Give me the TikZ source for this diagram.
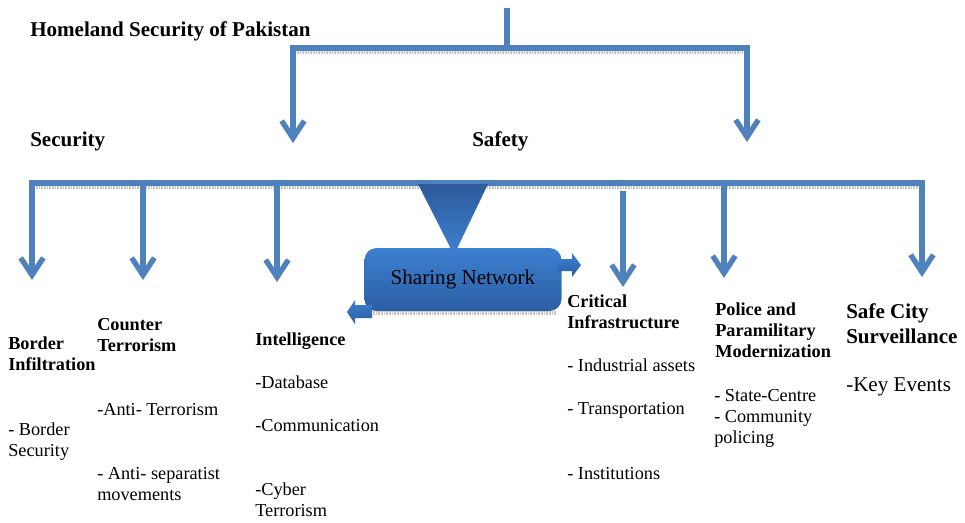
\documentclass[tikz,border=0pt]{standalone}
\usepackage{fontspec}
\setmainfont{Liberation Serif}
\usetikzlibrary{arrows.meta}

\definecolor{linkblue}{RGB}{79,129,189}
\definecolor{netTop}{RGB}{60,128,208}
\definecolor{netBot}{RGB}{44,94,164}
\definecolor{funTop}{RGB}{44,90,154}
\definecolor{funBot}{RGB}{62,130,210}

\tikzset{
  branch/.style={draw=linkblue,line width=4pt},
  down/.style={branch,-{Straight Barb[length=13pt,width=17pt]}},
  railshadow/.style={draw=gray!45,line width=2.5pt,dash pattern=on 1.2pt off 0.8pt},
  bighead/.style={font=\fontsize{15.8}{18.75}\selectfont\bfseries,align=left,anchor=base west,inner sep=0pt},
  bigitem/.style={font=\fontsize{15.8}{18.75}\selectfont,align=left,anchor=base west,inner sep=0pt},
  head/.style={font=\fontsize{13.7}{15.75}\selectfont\bfseries,align=left,anchor=base west,inner sep=0pt},
  item/.style={font=\fontsize{13.7}{15.75}\selectfont,align=left,anchor=base west,inner sep=0pt},
  netbox/.style={rounded corners=9pt,top color=netTop,bottom color=netBot,minimum width=147.75pt,
    minimum height=47.25pt,inner sep=0pt,font=\fontsize{15.8}{18}\selectfont},
  minitip/.style={top color=netTop,bottom color=netBot}
}

\begin{document}
\begin{tikzpicture}[x=0.75pt,y=-0.75pt]
\useasboundingbox (0,0) rectangle (965,522);

% top level
\coordinate (root) at (507,8);
\coordinate (hub) at (507,48);
\coordinate (secTip) at (293,143);
\coordinate (safTip) at (747,142);
\draw[railshadow] (297,52.5) -- (743,52.5);
\draw[branch] (root) -- (hub);
\draw[down] (hub) -| (secTip);
\draw[down] (hub) -| (safTip);

\node[bighead] (title) at (30,36) {Homeland Security of Pakistan};
\node[bighead] (security) at (30,146) {Security};
\node[bighead] (safety) at (472,146) {Safety};

% second rail
\coordinate (rail) at (453,183);
\coordinate (tipBorder) at (32,280);
\coordinate (tipSafe) at (922,277);
\draw[railshadow] (36,187.5) -- (918,187.5);
\draw[down] (rail) -| (tipBorder);
\draw[down] (rail) -| (tipSafe);
\foreach \n/\x/\s/\t in {counter/143/183/280,intel/277/183/282,critical/623/191/287,police/724/183/278}{
  \coordinate (drop\n) at (\x,\s);
  \coordinate (tip\n) at (\x,\t);
  \draw[down] (drop\n) -- (tip\n);
}

% sharing network
\draw[railshadow] (373,313) -- (557,313);
\node[netbox] (net) at (463,279.5) {Sharing Network};
\shade[top color=funTop,bottom color=funBot] (418,184) -- (488,184) -- (454,255) -- cycle;
\shade[minitip] (558,259) -- (572,259) -- (572,253) -- (581,265) -- (572,277) -- (572,271) -- (558,271) -- cycle;
\shade[minitip] (372,305) -- (355,305) -- (355,300) -- (347,312) -- (355,324) -- (355,318) -- (372,318) -- cycle;

% columns (multi-line nodes sit on their last line)
\node[head] (border) at (8,370) {Border\\Infiltration};
\node[item] (borderList) at (8,456) {- Border\\Security};

\node[head] (counter) at (97,351) {Counter\\Terrorism};
\node[item] (counterA) at (97,415) {-Anti- Terrorism};
\node[item] (counterB) at (97,500) {- Anti- separatist\\movements};

\node[head] (intel) at (255,345) {Intelligence};
\node[item] (intelA) at (255,388) {-Database};
\node[item] (intelB) at (255,431) {-Communication};
\node[item] (intelC) at (255,516) {-Cyber\\Terrorism};

\node[head] (critical) at (567,328) {Critical\\Infrastructure};
\node[item] (critA) at (567,371) {- Industrial assets};
\node[item] (critB) at (567,414) {- Transportation};
\node[item] (critC) at (567,479) {- Institutions};

\node[head] (police) at (715,357) {Police and\\Paramilitary\\Modernization};
\node[item] (policeList) at (714,443) {- State-Centre\\- Community\\policing};

\node[bighead] (safecity) at (846,343) {Safe City\\Surveillance};
\node[bigitem] (keyEvents) at (846,391) {-Key Events};
\end{tikzpicture}
\end{document}
